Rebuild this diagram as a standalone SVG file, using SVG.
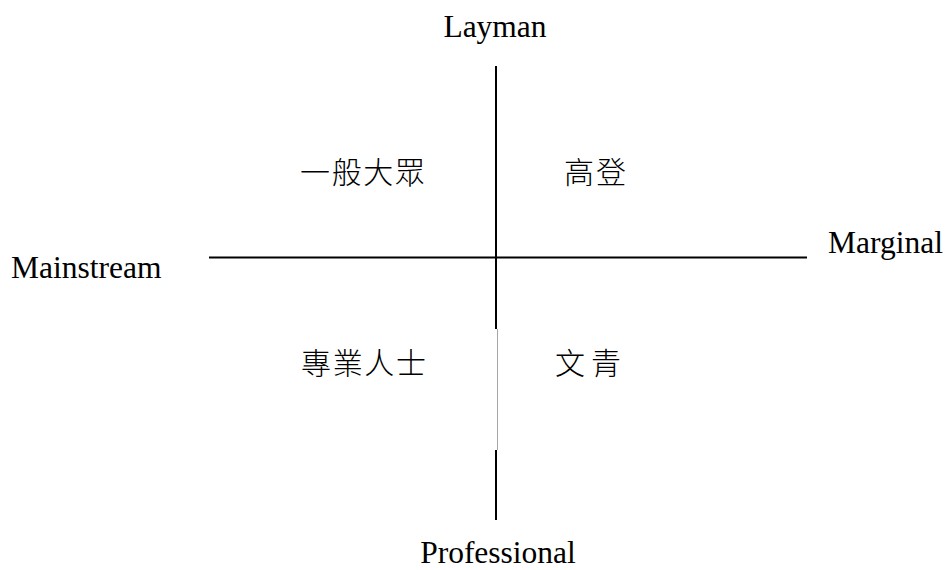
<svg xmlns="http://www.w3.org/2000/svg" width="949" height="570" viewBox="0 0 949 570">
<style>
.lbl{font-family:"Liberation Serif","Times New Roman",serif;font-size:31.5px;fill:#000}
.cjk{font-family:"Noto Sans CJK TC","Noto Sans CJK SC",sans-serif;font-size:30px;font-weight:300;fill:#000}
.ax{stroke:#000;stroke-width:2;fill:none}
.thin{stroke:#a6a6a6;stroke-width:1;fill:none}
</style>
<rect width="949" height="570" fill="#fff"/>
<g id="connectors">
<line class="ax" x1="209" y1="257.5" x2="807" y2="257.5"/>
<line class="ax" x1="496" y1="66" x2="496" y2="329"/>
<line class="thin" x1="497.5" y1="329" x2="497.5" y2="450"/>
<line class="ax" x1="496" y1="450" x2="496" y2="520"/>
</g>
<g id="layman"><text class="lbl" x="495" y="37" text-anchor="middle">Layman</text></g>
<g id="professional"><text class="lbl" x="498" y="563" text-anchor="middle">Professional</text></g>
<g id="mainstream"><text class="lbl" x="11" y="278">Mainstream</text></g>
<g id="marginal"><text class="lbl" x="828" y="253">Marginal</text></g>
<g id="q1"><text class="cjk" x="300" y="183" textLength="125">一般大眾</text></g>
<g id="q2"><text class="cjk" x="564" y="183" textLength="62">高登</text></g>
<g id="q3"><text class="cjk" x="301" y="374" textLength="125">專業人士</text></g>
<g id="q4"><text class="cjk" x="555" y="374" textLength="66">文青</text></g>
</svg>
